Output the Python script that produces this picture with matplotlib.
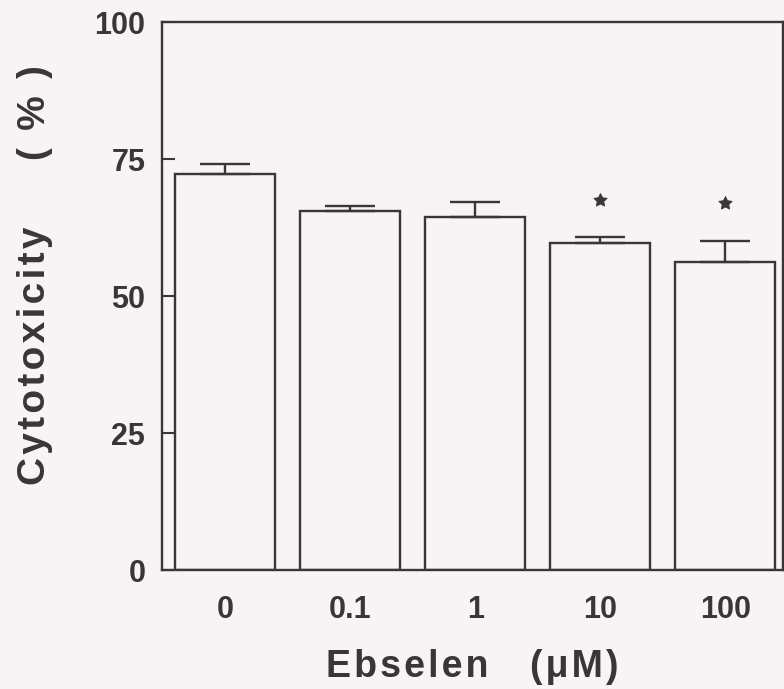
import matplotlib.pyplot as plt

# ==============================
# DATA
# ==============================
doses = ['0', '0.1', '1', '10', '100']
cytotox = [72.3, 65.6, 64.5, 59.6, 56.3]
sem = [1.8, 0.9, 2.7, 1.2, 3.8]
signif = [False, False, False, True, True]

INK = '#3b3438'
BG = '#f7f4f5'

plt.rcParams['font.family'] = ['Liberation Sans', 'DejaVu Sans']


def spaced(s, gap='\u200a'):
    # fake letter spacing, like the old typeset figure
    return gap.join(s)


fig = plt.figure(figsize=(7.84, 6.89), dpi=100, facecolor=BG)
ax = fig.add_axes([0.2066, 0.1727, 0.7921, 0.7953], facecolor=BG)

x = list(range(len(doses)))
ax.bar(x, cytotox, width=0.8, color=BG, edgecolor=INK, linewidth=1.7, zorder=2)
ax.errorbar(x, cytotox, yerr=[[0] * len(sem), sem], fmt='none', ecolor=INK,
            elinewidth=1.7, capsize=18, capthick=1.7, zorder=3)

star_x = [xi for xi, s in zip(x, signif) if s]
star_y = [v + e + 6.8 for v, e, s in zip(cytotox, sem, signif) if s]
ax.scatter(star_x, star_y, marker=(5, 1, 0), s=100, color=INK, linewidths=0.6,
           zorder=4)

ax.set_xlim(-0.508, 4.46)
ax.set_ylim(0, 100)
ax.set_yticks([0, 25, 50, 75, 100])
ax.set_xticks(x)
ax.set_xticklabels(doses)

for sp in ax.spines.values():
    sp.set_color(INK)
    sp.set_linewidth(1.7)

ax.tick_params(axis='y', direction='in', length=9, width=1.5, color=INK,
               labelcolor=INK, labelsize=22, pad=12)
ax.tick_params(axis='x', length=0, labelcolor=INK, labelsize=22, pad=18)
for lab in ax.get_yticklabels() + ax.get_xticklabels():
    lab.set_fontweight('bold')

ax.set_xlabel(spaced('Ebselen') + '    ' + spaced('(\u03bcM)'), fontsize=27,
              fontweight='bold', color=INK, labelpad=17)

# y label: two pieces, spread out along the axis as in the original
fig.text(0.045, 0.484, spaced('Cytotoxicity'), rotation=90, ha='center',
         va='center', fontsize=28, fontweight='bold', color=INK)
fig.text(0.045, 0.836, '(\u200a \u200a%\u200a \u200a)', rotation=90,
         ha='center', va='center', fontsize=28, fontweight='bold', color=INK)

fig.savefig('out.png', dpi=100, facecolor=BG)
